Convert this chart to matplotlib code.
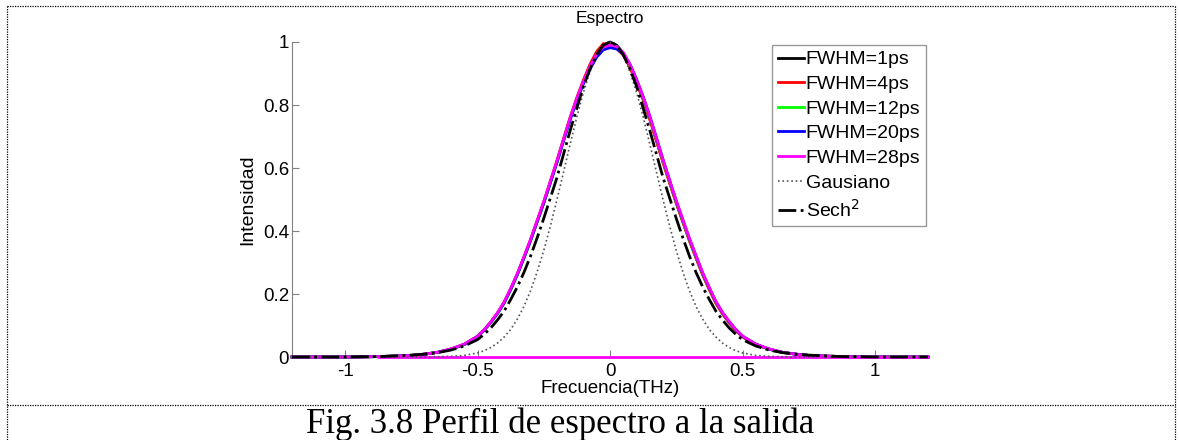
import numpy as np
import matplotlib
matplotlib.use("Agg")
import matplotlib.pyplot as plt
from matplotlib.lines import Line2D

plt.rcParams['font.family'] = ['Liberation Sans', 'DejaVu Sans']

# frequency grid (THz); finer steps around the peak. values
freq = [-1.2, -1.15, -1.1, -1.05, -1.0, -0.95, -0.9, -0.85, -0.8, -0.75, -0.7, -0.65,
        -0.6, -0.55, -0.5, -0.475, -0.45, -0.425, -0.4, -0.375, -0.35, -0.325, -0.3,
        -0.275, -0.25, -0.225, -0.2, -0.175, -0.15, -0.125, -0.1, -0.075, -0.05, -0.025,
        0.0, 0.025, 0.05, 0.075, 0.1, 0.125, 0.15, 0.175, 0.2, 0.225, 0.25, 0.275, 0.3,
        0.325, 0.35, 0.375, 0.4, 0.425, 0.45, 0.475, 0.5, 0.55, 0.6, 0.65, 0.7, 0.75,
        0.8, 0.85, 0.9, 0.95, 1.0, 1.05, 1.1, 1.15, 1.2]

fwhm_1 = [0, 0, 0, 0, 0, 0, 0.001, 0.002, 0.003, 0.005, 0.009, 0.015, 0.025, 0.04,
          0.065, 0.085, 0.11, 0.138, 0.172, 0.215, 0.262, 0.315, 0.37, 0.43, 0.49, 0.555,
          0.62, 0.69, 0.758, 0.82, 0.875, 0.925, 0.965, 0.99, 1.0, 0.99, 0.965, 0.925,
          0.875, 0.82, 0.758, 0.69, 0.62, 0.555, 0.49, 0.43, 0.37, 0.315, 0.262, 0.215,
          0.172, 0.138, 0.11, 0.085, 0.065, 0.04, 0.025, 0.015, 0.009, 0.005, 0.003, 0.002,
          0.001, 0, 0, 0, 0, 0, 0]
fwhm_4 = [0, 0, 0, 0, 0, 0, 0.001, 0.002, 0.003, 0.005, 0.009, 0.015, 0.025, 0.04,
          0.066, 0.086, 0.111, 0.139, 0.173, 0.216, 0.263, 0.316, 0.372, 0.432, 0.492,
          0.558, 0.624, 0.694, 0.762, 0.824, 0.88, 0.93, 0.97, 0.995, 0.99, 0.98, 0.958,
          0.92, 0.87, 0.816, 0.754, 0.686, 0.617, 0.552, 0.488, 0.428, 0.368, 0.313, 0.26,
          0.213, 0.17, 0.136, 0.108, 0.084, 0.064, 0.04, 0.025, 0.015, 0.009, 0.005, 0.003,
          0.002, 0.001, 0, 0, 0, 0, 0, 0]
fwhm_12 = [0, 0, 0, 0, 0, 0, 0.001, 0.002, 0.003, 0.005, 0.009, 0.015, 0.025, 0.04,
           0.065, 0.085, 0.109, 0.137, 0.17, 0.213, 0.26, 0.313, 0.368, 0.428, 0.488,
           0.553, 0.618, 0.688, 0.756, 0.818, 0.872, 0.92, 0.96, 0.982, 0.99, 0.985, 0.965,
           0.928, 0.878, 0.823, 0.761, 0.693, 0.623, 0.558, 0.492, 0.432, 0.372, 0.317,
           0.264, 0.217, 0.174, 0.139, 0.111, 0.086, 0.066, 0.04, 0.025, 0.015, 0.009, 0.005,
           0.003, 0.002, 0.001, 0, 0, 0, 0, 0, 0]
fwhm_20 = [0, 0, 0, 0, 0, 0, 0.001, 0.002, 0.003, 0.005, 0.009, 0.015, 0.025, 0.04,
           0.065, 0.085, 0.11, 0.138, 0.171, 0.214, 0.261, 0.314, 0.369, 0.429, 0.489,
           0.553, 0.618, 0.687, 0.754, 0.815, 0.868, 0.915, 0.952, 0.975, 0.982, 0.978,
           0.962, 0.93, 0.882, 0.827, 0.765, 0.697, 0.627, 0.561, 0.495, 0.435, 0.375, 0.32,
           0.266, 0.219, 0.175, 0.14, 0.112, 0.087, 0.066, 0.041, 0.025, 0.015, 0.009, 0.005,
           0.003, 0.002, 0.001, 0, 0, 0, 0, 0, 0]
fwhm_28 = [0, 0, 0, 0, 0, 0, 0.001, 0.002, 0.003, 0.005, 0.009, 0.015, 0.026, 0.041,
           0.066, 0.086, 0.111, 0.14, 0.174, 0.217, 0.264, 0.318, 0.373, 0.433, 0.494,
           0.558, 0.623, 0.692, 0.76, 0.822, 0.876, 0.924, 0.962, 0.984, 0.99, 0.986, 0.967,
           0.93, 0.881, 0.826, 0.764, 0.696, 0.626, 0.561, 0.496, 0.436, 0.376, 0.321, 0.267,
           0.22, 0.176, 0.141, 0.113, 0.087, 0.067, 0.041, 0.026, 0.015, 0.009, 0.005, 0.003,
           0.002, 0.001, 0, 0, 0, 0, 0, 0]

gauss = [0, 0, 0, 0, 0, 0, 0, 0, 0, 0, 0, 0.001, 0.002, 0.005, 0.013, 0.02, 0.03, 0.044,
         0.063, 0.087, 0.12, 0.16, 0.21, 0.27, 0.338, 0.416, 0.5, 0.588, 0.677, 0.763,
         0.841, 0.907, 0.958, 0.989, 1.0, 0.989, 0.958, 0.907, 0.841, 0.763, 0.677, 0.588,
         0.5, 0.416, 0.338, 0.27, 0.21, 0.16, 0.12, 0.087, 0.063, 0.044, 0.03, 0.02, 0.013,
         0.005, 0.002, 0.001, 0, 0, 0, 0, 0, 0, 0, 0, 0, 0, 0]
sech2 = [0, 0, 0, 0, 0, 0.001, 0.001, 0.002, 0.004, 0.006, 0.009, 0.014, 0.022, 0.035,
         0.055, 0.072, 0.092, 0.117, 0.145, 0.182, 0.222, 0.268, 0.32, 0.378, 0.44, 0.505,
         0.57, 0.645, 0.72, 0.79, 0.86, 0.915, 0.96, 0.99, 1.0, 0.99, 0.96, 0.915, 0.86,
         0.79, 0.72, 0.645, 0.57, 0.505, 0.44, 0.378, 0.32, 0.268, 0.222, 0.182, 0.145,
         0.117, 0.092, 0.072, 0.055, 0.035, 0.022, 0.014, 0.009, 0.006, 0.004, 0.002, 0.001,
         0.001, 0, 0, 0, 0, 0]

# flat zero line drawn with the 28 ps trace
base_x = [-0.87, 1.2]
base_y = [0, 0]

labels = ['FWHM=1ps', 'FWHM=4ps', 'FWHM=12ps', 'FWHM=20ps', 'FWHM=28ps']
colors = ['black', 'red', '#00ff00', 'blue', 'magenta']
series = [fwhm_1, fwhm_4, fwhm_12, fwhm_20, fwhm_28]

W, H = 1179, 440
fig = plt.figure(figsize=(W / 100, H / 100), dpi=100)
ax = fig.add_axes([292 / W, 1 - 357 / H, (928 - 292) / W, (357 - 42) / H])

for y, c, lab in zip(series, colors, labels):
    ax.plot(freq, y, color=c, lw=2, label=lab, clip_on=False, zorder=3)
ax.plot(base_x, base_y, color='magenta', lw=2, clip_on=False, zorder=3)
ax.plot(freq, gauss, color='#555555', lw=1.2, ls=':', label='Gausiano', clip_on=False, zorder=4)
ax.plot(freq, sech2, color='black', lw=2, ls='-.', label='Sech$^2$', clip_on=False, zorder=4)

ax.set_xlim(-1.2, 1.2)
ax.set_ylim(0, 1)
ax.set_xticks([-1, -0.5, 0, 0.5, 1])
ax.set_xticklabels(['-1', '-0.5', '0', '0.5', '1'])
ax.set_yticks([0, 0.2, 0.4, 0.6, 0.8, 1])
ax.set_yticklabels(['0', '0.2', '0.4', '0.6', '0.8', '1'])
ax.tick_params(direction='in', length=5, width=0.8, color='#808080', labelsize=13.5)
ax.tick_params(axis='x', pad=4)
ax.tick_params(axis='y', pad=2)
for s in ['top', 'right']:
    ax.spines[s].set_visible(False)
for s in ['left', 'bottom']:
    ax.spines[s].set_color('#808080')
ax.set_xlabel('Frecuencia(THz)', fontsize=13.5, labelpad=0)
ax.set_ylabel('Intensidad', fontsize=14, labelpad=5)
ax.set_title('Espectro', fontsize=12.5, pad=14)

leg = ax.legend(loc='upper right', bbox_to_anchor=(926 / W, 1 - 45 / H),
                bbox_transform=fig.transFigure, fontsize=14, handlelength=1.3,
                handletextpad=0.1, labelspacing=0.36, borderpad=0.3, fancybox=False,
                framealpha=1, borderaxespad=0)
leg.get_frame().set_edgecolor('#999999')
leg.get_frame().set_linewidth(1.0)

# dotted table borders around the figure
def fline(x0, y0, x1, y1):
    fig.add_artist(Line2D([x0 / W, x1 / W], [1 - y0 / H, 1 - y1 / H],
                          transform=fig.transFigure, color='black', lw=0.9, ls=(0, (1, 1))))

fline(7, 6, 1175, 6)
fline(7, 405, 1175, 405)
fline(7, 6, 7, 440)
fline(1175, 6, 1175, 440)

fig.text(560 / W, 1 - 424 / H, 'Fig. 3.8 Perfil de espectro a la salida',
         family=['Liberation Serif', 'DejaVu Serif'], fontsize=25, ha='center', va='center')

fig.savefig('out.png', dpi=100)
